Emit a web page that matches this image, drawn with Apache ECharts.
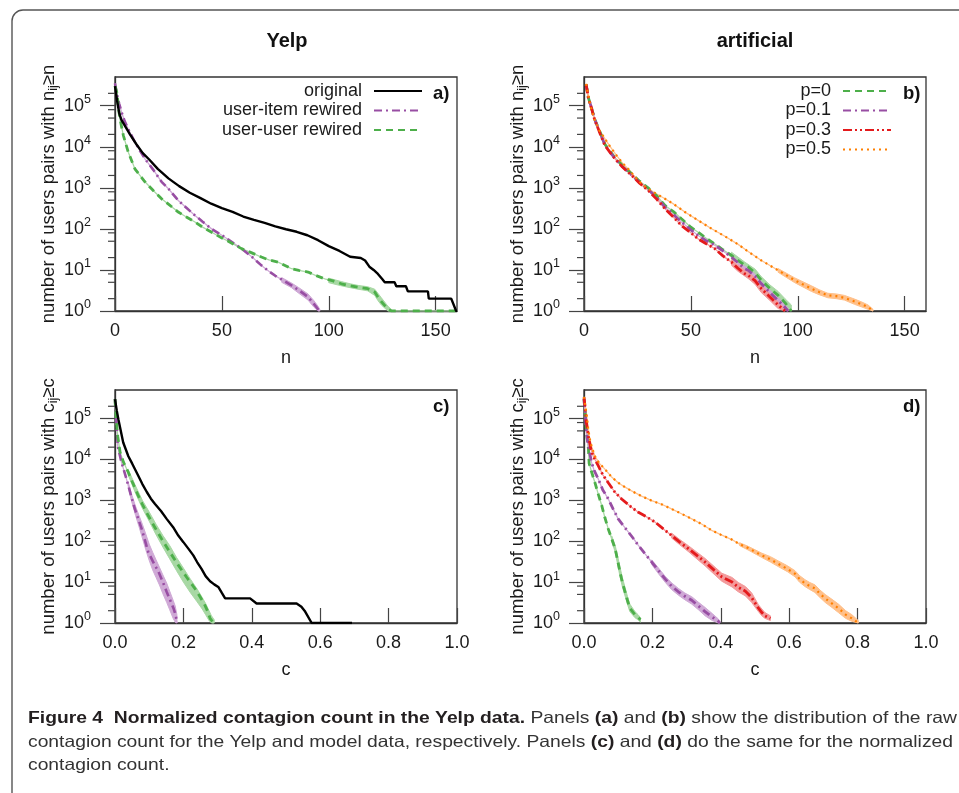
<!DOCTYPE html>
<html><head><meta charset="utf-8">
<script src="https://cdn.jsdelivr.net/npm/echarts@6/dist/echarts.min.js"></script>
<style>html,body{margin:0;padding:0;background:#fff}#c{width:959px;height:793px}</style>
</head><body><div id="c"></div><script>
// ---------- tick labels ----------
const nTicks = [0, 50, 100, 150];
const cTicks = [0, 0.2, 0.4, 0.6, 0.8, 1.0];
const minorTickValues = [2,5,8,20,50,80,200,500,800,2000,5000,8000,20000,50000,80000,200000];

// ---------- panel a (Yelp, n) ----------
const aOrigN = [0,1,2,3,5,7,10,13,16,20,25,30,35,40,45,50,55,60,65,70,75,80,85,90,95,100,105,110,115,117,119,121,123,125,126.2,130.8,131.6,136.1,137,146.4,146.8,157.3,159.6,160];
const aOrigV = [300000,130000,65000,45000,30000,20000,11500,7000,4900,2900,1700,1100,760,560,410,320,260,200,165,140,115,98,85,70,53,38,29,21,19.5,17,12,10,8,6,5,5,4,4,3,3,2,2,1,1];
const aItemN = [0,1,2,3.1,4.5,6.2,9.3,11.7,14,18,21.8,25,29.6,33,37.4,41,45.2,50,53,59.2,64,68.5,72,75,79,82.6,86,90.3,93,95,95.8];
const aItemV = [350000,180000,110000,69000,42000,27000,13000,8000,5100,2700,1400,950,492,340,213,150,100,70,55,33,21,12.9,9.3,7.2,5.4,4.2,3.2,2.2,1.5,1.1,1];
const aUserN = [0,1,1.5,2.3,3.9,6.2,9.3,12,14,18,21.8,25,29.6,33,37.4,41,45.2,50,53,59.2,64,68.5,72,76.3,82.6,86,90.3,94,98.1,102,105.9,110,113.7,118.2,121.5,123,124.6,127.7,129.3,160];
const aUserV = [300000,200000,100000,48000,19000,7400,2900,1900,1400,850,540,400,257,200,147,110,83,60,50,33,26,20.6,17.5,15.5,10.7,9.8,8.9,7.3,6.1,5.4,4.6,4.1,3.8,3.5,2.9,2.2,1.7,1.1,1,1];
const aItemBand = [[78,5.0,6.5],[82.6,3.7,4.8],[86,2.7,3.7],[90.3,1.85,2.6],[93,1.25,1.8],[95,1.0,1.3],[95.8,1,1.1]];
const aUserBand = [[100,4.9,6.3],[105.9,4.1,5.2],[110,3.7,4.6],[113.7,3.4,4.2],[118.2,3.1,3.9],[121.5,2.4,3.4],[123,1.8,2.7],[124.6,1.4,2.1],[127.7,1.0,1.3],[129.3,1,1.1]];

// ---------- panel b (artificial, n) ----------
const bN_p0 = [1,2,3.6,5,6.7,9.8,12,14.5,18,22.3,26,30,34,37.9,42,45.6,50,53.4,57,61.2,65,69,72,75.2,76.8,80,83,87,90.8,94,97];
const bV_p0 = [330000,160000,85000,47000,29000,11500,8000,5400,3500,2200,1450,1000,640,372,260,176,110,83,60,43,31,22.6,17,13,11.8,8.5,5.6,3.5,2.4,1.6,1];
const bN_p01 = [1,2,3.6,5,6.7,9.8,12,14.5,18,22.3,26,30,34,37.9,42,45.6,50,53.4,57,61.2,65,69,72,75.2,76.8,80,83,87,90.8,93,95.5];
const bV_p01 = [330000,160000,85000,46000,28000,11000,7600,5200,3300,2050,1350,920,580,338,220,147,95,69,52,40,29,20.6,15,10.7,9.8,7,4.6,2.8,1.8,1.4,1];
const bN_p03 = [1,2,3.6,5,6.7,8,9.8,12,14.5,18,22.3,26,30,34,37.9,42,45.6,50,53.4,57,61.2,65,69,72,75.2,76.8,80,83,87,90.8,94];
const bV_p03 = [330000,160000,83000,45000,27000,18000,10700,7500,5100,3200,2000,1300,870,530,309,190,121,80,57,44,33,22,15.5,11,8.1,7.4,5.5,3.5,2.2,1.4,1];
const bN_p05 = [1,2,3,4.8,7,9.8,12,15.3,18,21.5,24,27.7,32.4,37.9,42,47.2,53.4,59.7,65.9,72.1,76.8,83,90.8,98.6,106.4,110,114.1,118,121.8,126.6,130,132.9,135.2];
const bV_p05 = [340000,180000,100000,48000,26000,15600,10500,6100,4000,2600,1800,1140,790,540,400,257,161,101,66,42,28,17,9.8,5.6,3.5,2.9,2.4,2.3,2.1,1.7,1.45,1.25,1];
const bBand_p0 = [[69,19,27],[75.2,11,15.5],[80,7,10.5],[83,4.6,6.8],[87,2.9,4.3],[90.8,1.9,3],[94,1.3,2],[97,1,1.4]];
const bBand_p01 = [[72,13,17],[76.8,8.5,11.2],[80,6,8.2],[83,3.9,5.4],[87,2.3,3.3],[90.8,1.5,2.1],[93,1.15,1.7],[95.5,1,1.15]];
const bBand_p03 = [[69,13,18],[72,9.3,13],[76.8,6.2,8.8],[80,4.5,6.6],[83,2.8,4.3],[87,1.8,2.7],[90.8,1.15,1.75],[94,1,1.15]];
const bBand_p05 = [[90.8,8.8,10.8],[98.6,4.9,6.4],[106.4,3.0,4.1],[110,2.5,3.3],[114.1,2.1,2.7],[118,2.0,2.6],[121.8,1.85,2.4],[126.6,1.45,1.95],[130,1.25,1.65],[132.9,1.1,1.4],[135.2,1,1.1]];

// ---------- panel c (Yelp, c) ----------
const cOrigC = [0,0.005,0.01,0.024,0.039,0.05,0.068,0.08,0.093,0.105,0.117,0.135,0.151,0.17,0.185,0.2,0.215,0.229,0.24,0.253,0.265,0.278,0.29,0.302,0.312,0.322,0.395,0.414,0.531,0.545,0.556,0.575,0.693];
const cOrigV = [300000,160000,95000,26000,12000,8000,4000,2500,1600,1100,815,540,352,220,138,95,65,45,31,21,14,10.5,8.8,7.6,5.5,4,4,3,3,2.5,1.9,1,1];
const cUserC = [0,0.002,0.004,0.008,0.015,0.025,0.039,0.05,0.068,0.08,0.097,0.115,0.136,0.16,0.185,0.21,0.234,0.25,0.263,0.27,0.278,0.288];
const cUserV = [300000,150000,90000,37000,15000,8500,4800,2900,1300,800,425,230,115,55,26,13,6.9,4.2,2.7,2,1.3,1];
const cItemC = [0,0.002,0.005,0.008,0.019,0.03,0.039,0.048,0.058,0.068,0.078,0.087,0.097,0.11,0.127,0.14,0.151,0.162,0.171,0.178,0.181];
const cItemV = [300000,150000,66000,21000,8500,4200,2300,1200,616,350,200,110,55,33,18,10,5.8,3.5,2.3,1.5,1];
const cItemBand = [[0.039,2000,2700],[0.05,850,1300],[0.06,430,720],[0.07,230,430],[0.08,120,260],[0.09,62,150],[0.1,34,85],[0.11,20,54],[0.12,13,35],[0.13,8.5,23],[0.14,5.2,15],[0.151,3.2,9.5],[0.16,2.1,6],[0.17,1.3,3.6],[0.176,1.05,2.6],[0.181,1,1.6]];
const cUserBand = [[0.039,4100,5600],[0.06,1500,2250],[0.08,640,1000],[0.1,310,520],[0.12,145,260],[0.14,72,138],[0.16,37,78],[0.18,19,40],[0.2,10,22],[0.22,5.6,12],[0.24,3.3,6.8],[0.255,2.2,4.2],[0.265,1.6,3.0],[0.275,1.15,2.0],[0.282,1,1.5],[0.29,1,1.2]];

// ---------- panel d (artificial, c) ----------
const dC_p0 = [0,0.004,0.008,0.013,0.015,0.022,0.032,0.042,0.052,0.061,0.071,0.081,0.091,0.098,0.105,0.112,0.12,0.127,0.134,0.149,0.158,0.165];
const dV_p0 = [300000,120000,40000,18000,8000,5000,2700,1400,740,380,200,115,66,35,18,10,5.8,3.6,2.3,1.6,1.4,1.2];
const dC_p01 = [0,0.003,0.006,0.01,0.013,0.022,0.03,0.042,0.055,0.071,0.085,0.1,0.115,0.13,0.145,0.159,0.178,0.198,0.218,0.237,0.256,0.276,0.295,0.315,0.335,0.354,0.375,0.393,0.397];
const dV_p01 = [300000,150000,60000,30000,21000,8500,5300,3300,1800,1080,620,352,240,167,115,79,50,31,19,12,8,5.8,4.5,3.6,2.6,1.9,1.4,1.1,1];
const dC_p03 = [0,0.003,0.007,0.013,0.02,0.027,0.042,0.055,0.071,0.09,0.11,0.135,0.159,0.184,0.208,0.232,0.256,0.28,0.305,0.33,0.354,0.374,0.403,0.433,0.451,0.472,0.49,0.51,0.52,0.529,0.545];
const dV_p03 = [330000,200000,80000,37000,18000,12000,7000,4200,2700,1600,1080,720,510,390,293,200,138,95,66,45,31,22,13.4,10,7.5,6,4.2,2.3,1.8,1.5,1.3];
const dC_p05 = [0,0.004,0.008,0.012,0.016,0.022,0.032,0.045,0.061,0.08,0.1,0.12,0.139,0.17,0.198,0.23,0.256,0.285,0.315,0.345,0.373,0.4,0.432,0.455,0.48,0.52,0.545,0.568,0.595,0.617,0.63,0.646,0.66,0.675,0.69,0.705,0.725,0.744,0.765,0.783,0.802];
const dV_p05 = [340000,200000,120000,60000,35000,21000,12000,8000,5800,3800,2700,2100,1700,1250,980,780,616,470,352,260,185,145,110,85,68,45,36,28,21,16,12,9.3,8,7,5.2,4,3,2.3,1.6,1.3,1];
const dBand_p0 = [[0.081,100,135],[0.091,55,80],[0.098,28,44],[0.105,14,24],[0.112,7.8,13],[0.12,4.6,7.4],[0.127,2.9,4.5],[0.134,1.9,2.9],[0.149,1.35,1.9],[0.158,1.2,1.6],[0.165,1.05,1.35]];
const dBand_p01 = [[0.198,27,35],[0.218,16,22],[0.237,10,14],[0.256,6.6,9.6],[0.276,4.8,7],[0.295,3.7,5.4],[0.315,2.9,4.4],[0.335,2.1,3.2],[0.354,1.5,2.4],[0.375,1.15,1.7],[0.393,1,1.25],[0.397,1,1.1]];
const dBand_p03 = [[0.256,120,158],[0.28,82,110],[0.305,56,78],[0.33,37,54],[0.354,25,38],[0.374,17.5,27],[0.403,10.5,16.5],[0.433,7.6,13],[0.451,5.8,9.8],[0.472,4.6,7.8],[0.49,3.2,5.5],[0.51,1.9,2.8],[0.52,1.5,2.2],[0.529,1.3,1.8],[0.545,1.15,1.5]];
const dBand_p05 = [[0.455,78,92],[0.48,61,75],[0.52,40,51],[0.545,31,42],[0.568,24,33],[0.595,18,25],[0.617,13.5,19],[0.63,10,14.5],[0.646,7.8,11.5],[0.66,6.6,9.8],[0.675,5.6,8.6],[0.69,4.2,6.4],[0.705,3.2,5],[0.725,2.4,3.8],[0.744,1.8,2.9],[0.765,1.3,2],[0.783,1.1,1.6],[0.802,1,1.15]];

// ---------- styling ----------
const FONT = '"Liberation Sans", Arial, Helvetica, sans-serif';
const TXT = '#1a1a1a', AX = '#333';
const FS = 18, FS_SUP = 12.5;
const COL = {black:'#000000', purple:'#984ea3', green:'#4daf4a', red:'#e41a1c', orange:'#ff7f00'};
const LIGHT = {black:'#999999', purple:'#cfa9d6', green:'#a8d8a4', red:'#f39a9b', orange:'#ffc08a'};
const DASH = {solid:'solid', dashdot:[8,4,2,4], dash:[7,5], dashdotdot:[9,3,2,3,2,3], dot:[2,4]};

const grids = [
  {left:115, top:77, width:342, height:234},
  {left:584, top:77, width:342, height:234},
  {left:115, top:390, width:342, height:233},
  {left:584, top:390, width:342, height:233}
];

function zip(xs, ys){ return xs.map((x,i)=>[x, ys[i]]); }

function mkLine(name, xs, ys, key, dash, width, gi, z){
  return {type:'line', name:name, xAxisIndex:gi, yAxisIndex:gi, data:zip(xs,ys),
    symbol:'none', showSymbol:false, animation:false, z:z||3,
    lineStyle:{color:COL[key], width:width, type:dash, cap:'butt'}, itemStyle:{color:COL[key]}};
}
function mkUnder(xs, ys, key, gi){
  return {type:'line', name:'_u_'+key, xAxisIndex:gi, yAxisIndex:gi, data:zip(xs,ys),
    symbol:'none', showSymbol:false, animation:false, silent:true, z:2,
    lineStyle:{color:LIGHT[key], width:1.3, type:'solid'}};
}
function mkBand(band, key, gi){
  return {type:'custom', name:'_b_'+key, xAxisIndex:gi, yAxisIndex:gi, silent:true, z:1, animation:false,
    data:band, encode:{x:0, y:[1,2]},
    renderItem:function(params, api){
      if (params.dataIndex !== 0) return null;
      const top = band.map(r => api.coord([r[0], r[2]]));
      const bot = band.map(r => api.coord([r[0], r[1]])).reverse();
      return {type:'polygon', shape:{points:top.concat(bot)}, style:{fill:LIGHT[key], stroke:LIGHT[key], lineWidth:1}};
    }};
}
function mkMinor(gi, xmin){
  return {type:'custom', name:'_minor', xAxisIndex:gi, yAxisIndex:gi, silent:true, clip:false, z:5, animation:false,
    data:minorTickValues.map(v => [xmin, v]), encode:{x:0, y:1},
    renderItem:function(params, api){
      const p = api.coord([api.value(0), api.value(1)]);
      return {type:'line', shape:{x1:p[0]-7, y1:p[1], x2:p[0], y2:p[1]}, style:{stroke:'#444', lineWidth:1.2}};
    }};
}

const series = [];
// panel a
series.push(mkBand(aItemBand,'purple',0), mkBand(aUserBand,'green',0));
series.push(mkUnder(aItemN,aItemV,'purple',0), mkUnder(aUserN,aUserV,'green',0));
series.push(mkLine('user-item rewired', aItemN, aItemV, 'purple', DASH.dashdot, 2.6, 0));
series.push(mkLine('user-user rewired', aUserN, aUserV, 'green', DASH.dash, 2.8, 0));
series.push(mkLine('original', aOrigN, aOrigV, 'black', 'solid', 2.4, 0, 4));
// panel b
series.push(mkBand(bBand_p0,'green',1), mkBand(bBand_p01,'purple',1), mkBand(bBand_p03,'red',1), mkBand(bBand_p05,'orange',1));
series.push(mkUnder(bN_p0,bV_p0,'green',1), mkUnder(bN_p01,bV_p01,'purple',1), mkUnder(bN_p03,bV_p03,'red',1), mkUnder(bN_p05,bV_p05,'orange',1));
series.push(mkLine('p=0', bN_p0, bV_p0, 'green', DASH.dash, 2.8, 1));
series.push(mkLine('p=0.1', bN_p01, bV_p01, 'purple', DASH.dashdot, 2.8, 1));
series.push(mkLine('p=0.3', bN_p03, bV_p03, 'red', DASH.dashdotdot, 2.8, 1));
series.push(mkLine('p=0.5', bN_p05, bV_p05, 'orange', DASH.dot, 2.2, 1));
// panel c
series.push(mkBand(cItemBand,'purple',2), mkBand(cUserBand,'green',2));
series.push(mkUnder(cItemC,cItemV,'purple',2), mkUnder(cUserC,cUserV,'green',2));
series.push(mkLine('user-item rewired', cItemC, cItemV, 'purple', DASH.dashdot, 2.6, 2));
series.push(mkLine('user-user rewired', cUserC, cUserV, 'green', DASH.dash, 2.8, 2));
series.push(mkLine('original', cOrigC, cOrigV, 'black', 'solid', 2.4, 2, 4));
// panel d
series.push(mkBand(dBand_p0,'green',3), mkBand(dBand_p01,'purple',3), mkBand(dBand_p03,'red',3), mkBand(dBand_p05,'orange',3));
series.push(mkUnder(dC_p0,dV_p0,'green',3), mkUnder(dC_p01,dV_p01,'purple',3), mkUnder(dC_p03,dV_p03,'red',3), mkUnder(dC_p05,dV_p05,'orange',3));
series.push(mkLine('p=0', dC_p0, dV_p0, 'green', DASH.dash, 2.8, 3));
series.push(mkLine('p=0.1', dC_p01, dV_p01, 'purple', DASH.dashdot, 2.8, 3));
series.push(mkLine('p=0.3', dC_p03, dV_p03, 'red', DASH.dashdotdot, 2.8, 3));
series.push(mkLine('p=0.5', dC_p05, dV_p05, 'orange', DASH.dot, 2.2, 3));
for (let g = 0; g < 4; g++) series.push(mkMinor(g, 0));

const xAxis = grids.map((g, gi) => {
  const ticks = gi < 2 ? nTicks : cTicks;
  return {type:'value', gridIndex:gi, min:ticks[0], max: gi < 2 ? 160 : ticks[ticks.length-1],
    interval: ticks[1]-ticks[0],
    axisLine:{show:true, onZero:false, lineStyle:{color:AX, width:1.3}},
    axisTick:{show:true, inside:true, length:15, lineStyle:{color:'#444', width:1.2}},
    splitLine:{show:false},
    axisLabel:{margin:11, fontSize:FS, fontFamily:FONT, color:TXT, showMaxLabel: gi >= 2,
      formatter: gi < 2 ? (v => String(v)) : (v => v.toFixed(1))},
    name: gi < 2 ? 'n' : 'c', nameLocation:'middle', nameGap:38,
    nameTextStyle:{fontSize:FS, fontFamily:FONT, color:TXT}};
});
const yAxis = grids.map((g, gi) => ({
  type:'log', logBase:10, gridIndex:gi, min:1, max:500000,
  axisLine:{show:true, lineStyle:{color:AX, width:1.3}},
  axisTick:{show:true, inside:false, length:15, lineStyle:{color:'#444', width:1.2}},
  splitLine:{show:false}, minorTick:{show:false},
  axisLabel:{margin:24, showMaxLabel:false,
    formatter: v => '{m|10}{s|' + Math.round(Math.log10(v)) + '}',
    rich:{m:{fontSize:FS, fontFamily:FONT, color:TXT}, s:{fontSize:FS_SUP, fontFamily:FONT, color:TXT, padding:[0,0,12,0]}}},
  name: gi < 2 ? 'number of users pairs with n{s|ij}≥n' : 'number of users pairs with c{s|ij}≥c',
  nameLocation:'middle', nameGap:51, nameRotate:90,
  nameTextStyle:{fontSize:18.5, fontFamily:FONT, color:TXT,
    rich:{s:{fontSize:FS_SUP, fontFamily:FONT, color:TXT, padding:[10,0,0,0]}}}
}));

const legendBase = {orient:'vertical', align:'right', itemWidth:48, itemHeight:12, itemGap:1.5, padding:0,
  selectedMode:false, itemStyle:{opacity:0, borderWidth:0},
  textStyle:{fontSize:FS, fontFamily:FONT, color:TXT, padding:[0,7,0,0], lineHeight:18}};
const legend = [
  Object.assign({}, legendBase, {data:['original','user-item rewired','user-user rewired'], right:536, top:82}),
  Object.assign({}, legendBase, {data:['p=0','p=0.1','p=0.3','p=0.5'], right:67, top:82})
];

// caption
const capFont = FONT;
const capSize = 16.5;
const capL1 = [['Figure 4  Normalized contagion count in the Yelp data.',1],[' Panels ',0],['(a)',1],[' and ',0],['(b)',1],[' show the distribution of the raw',0]];
function measure(parts){
  const ctx = document.createElement('canvas').getContext('2d'); let w = 0;
  parts.forEach(p => { ctx.font = (p[1] ? 'bold ' : '') + capSize + 'px ' + capFont; w += ctx.measureText(p[0]).width; });
  return w;
}
const capScale = 929 / measure(capL1);
const capText =
  '{b|Figure 4  Normalized contagion count in the Yelp data.}{r| Panels }{b|(a)}{r| and }{b|(b)}{r| show the distribution of the raw}\n' +
  '{r|contagion count for the Yelp and model data, respectively. Panels }{b|(c)}{r| and }{b|(d)}{r| do the same for the normalized}\n' +
  '{r|contagion count.}';

const graphic = [
  {type:'rect', shape:{x:12, y:10, width:1100, height:900, r:11}, style:{fill:'none', stroke:'#555', lineWidth:1.4}, z:-1, silent:true},
  {type:'text', x:287, y:41, style:{text:'Yelp', align:'center', verticalAlign:'middle', fontSize:20, fontWeight:'bold', fontFamily:FONT, fill:'#111'}},
  {type:'text', x:755, y:41, style:{text:'artificial', align:'center', verticalAlign:'middle', fontSize:20, fontWeight:'bold', fontFamily:FONT, fill:'#111'}},
  {type:'text', x:433, y:94, style:{text:'a)', align:'left', verticalAlign:'middle', fontSize:18.5, fontWeight:'bold', fontFamily:FONT, fill:'#111'}},
  {type:'text', x:903, y:94, style:{text:'b)', align:'left', verticalAlign:'middle', fontSize:18.5, fontWeight:'bold', fontFamily:FONT, fill:'#111'}},
  {type:'text', x:433, y:407, style:{text:'c)', align:'left', verticalAlign:'middle', fontSize:18.5, fontWeight:'bold', fontFamily:FONT, fill:'#111'}},
  {type:'text', x:903, y:407, style:{text:'d)', align:'left', verticalAlign:'middle', fontSize:18.5, fontWeight:'bold', fontFamily:FONT, fill:'#111'}},
  {type:'text', x:28, y:707, scaleX:capScale, originX:0, originY:0,
    style:{text:capText, fontSize:capSize, fontFamily:capFont, fill:'#333', lineHeight:23.5,
      rich:{b:{fontSize:capSize, fontFamily:capFont, fontWeight:'bold', fill:'#231f20', lineHeight:23.5},
            r:{fontSize:capSize, fontFamily:capFont, fill:'#333', lineHeight:23.5}}}}
];

const chart = echarts.init(document.getElementById('c'), null, {renderer:'canvas'});
chart.setOption({animation:false, backgroundColor:'#fff',
  grid: grids.map(g => Object.assign({show:true, borderColor:AX, borderWidth:1.3, containLabel:false}, g)),
  xAxis:xAxis, yAxis:yAxis, legend:legend, series:series, graphic:graphic});
</script></body></html>
